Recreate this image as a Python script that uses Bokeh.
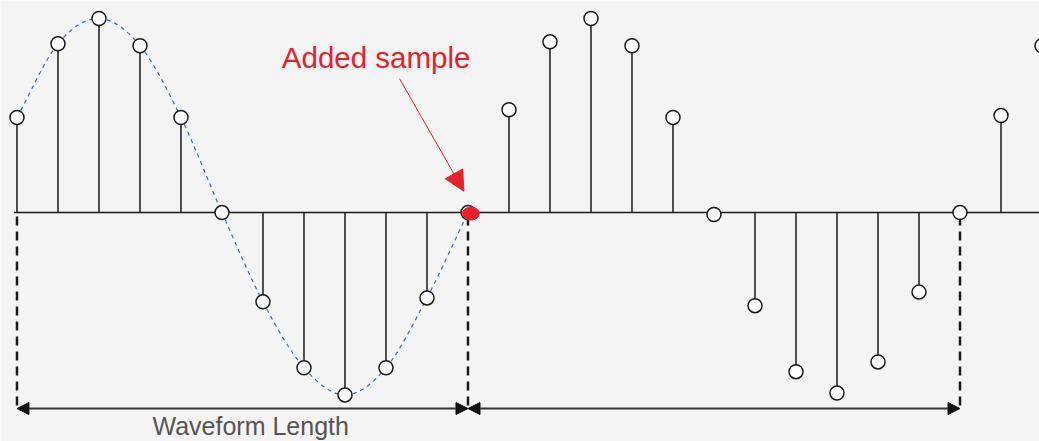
from bokeh.plotting import figure
from bokeh.models import Range1d, Arrow, NormalHead
from bokeh.core.properties import value
from bokeh.embed import file_html
from bokeh.resources import INLINE

# ---- data ----
# sample index of each sample
waveform_idx = list(range(0, 11))          # original waveform samples
waveform_vals = [0.49, 0.87, 1.00, 0.86, 0.49, 0.00, -0.46, -0.80, -0.94, -0.80, -0.44]
added_idx = [11]                           # the added (padding) sample
added_vals = [0.0]
padding_idx = list(range(12, 26))
padding_vals = [0.53, 0.88, 1.00, 0.86, 0.49, -0.01, -0.48, -0.82, -0.93, -0.77, -0.41, 0.00, 0.50, 0.86]

title_text = "Added sample"
length_label = "Waveform Length"
dim_marks = [0, 11, 23]   # sample indices where the dimension lines sit

# ---- figure ----
W, H = 1039, 441
p = figure(width=W, height=H, output_backend="svg", toolbar_location=None,
           x_range=Range1d(-0.402, 24.939), y_range=Range1d(-1.180, 1.093),
           min_border=0)
p.axis.visible = False
p.grid.visible = False
p.outline_line_color = None
p.background_fill_color = "#f4f4f4"
p.border_fill_color = "#f4f4f4"

ink = "#1a1a1a"

# continuous waveform (dashed blue) — Catmull-Rom Bezier through the samples
cx = waveform_idx + added_idx
cy = waveform_vals + added_vals
P = list(zip(cx, cy))
n = len(P)
ext = [(2 * P[0][0] - P[1][0], 2 * P[0][1] - P[1][1])] + P + \
      [(2 * P[-1][0] - P[-2][0], 2 * P[-1][1] - P[-2][1])]
bx0, by0, bx1, by1, c0x, c0y, c1x, c1y = [], [], [], [], [], [], [], []
for i in range(n - 1):
    pm, p0, p1, p2 = ext[i], ext[i + 1], ext[i + 2], ext[i + 3]
    bx0.append(p0[0]); by0.append(p0[1]); bx1.append(p1[0]); by1.append(p1[1])
    c0x.append(p0[0] + (p1[0] - pm[0]) / 6); c0y.append(p0[1] + (p1[1] - pm[1]) / 6)
    c1x.append(p1[0] - (p2[0] - p0[0]) / 6); c1y.append(p1[1] - (p2[1] - p0[1]) / 6)
p.bezier(x0=bx0, y0=by0, x1=bx1, y1=by1, cx0=c0x, cy0=c0y, cx1=c1x, cy1=c1y,
         line_color="#3b6db3", line_width=1.2, line_dash="4 4")

# baseline
p.segment(x0=[-0.07], y0=[0], x1=[26], y1=[0], line_color=ink, line_width=1.5)

# stems
all_idx = waveform_idx + padding_idx
all_vals = waveform_vals + padding_vals
p.segment(x0=all_idx, y0=[0] * len(all_idx), x1=all_idx, y1=all_vals,
          line_color=ink, line_width=1.5)

# dimension lines (dashed verticals)
p.segment(x0=dim_marks, y0=[-0.02] * 3, x1=dim_marks, y1=[-1.01] * 3,
          line_color=ink, line_width=2.5, line_dash="9 6")

# double arrows
for a, b in [(dim_marks[0], dim_marks[1]), (dim_marks[1], dim_marks[2])]:
    p.add_layout(Arrow(x_start=a, y_start=-1.01, x_end=b, y_end=-1.01,
                       line_color="#333333", line_width=2,
                       start=NormalHead(size=12, fill_color="#111111", line_color="#111111"),
                       end=NormalHead(size=12, fill_color="#111111", line_color="#111111")))

# sample circles
p.scatter(x=all_idx + added_idx, y=all_vals + added_vals, size=14,
          fill_color="white", line_color=ink, line_width=1.5)

# red added-sample marker
p.ellipse(x=[i + 0.07 for i in added_idx], y=[v - 0.005 for v in added_vals],
          width=17, height=13, width_units="screen", height_units="screen",
          fill_color="#e8202a", line_color="#e8202a")

# annotation text + arrow
p.text(x=[6.46], y=[0.80], text=[title_text], text_color="#e8202a",
       text_font=value("Liberation Sans"), text_font_size="29.5px",
       text_baseline="alphabetic", text_align="left")
p.add_layout(Arrow(x_start=9.33, y_start=0.69, x_end=10.9, y_end=0.11,
                   line_color="#e8202a", line_width=1,
                   end=NormalHead(size=20, fill_color="#e8202a", line_color="#e8202a")))

p.text(x=[5.7], y=[-1.10], text=[length_label], text_color="#555555",
       text_font=value("Liberation Sans"), text_font_size="25px",
       text_baseline="alphabetic", text_align="center")

open("out.html", "w").write(file_html(p, INLINE))
